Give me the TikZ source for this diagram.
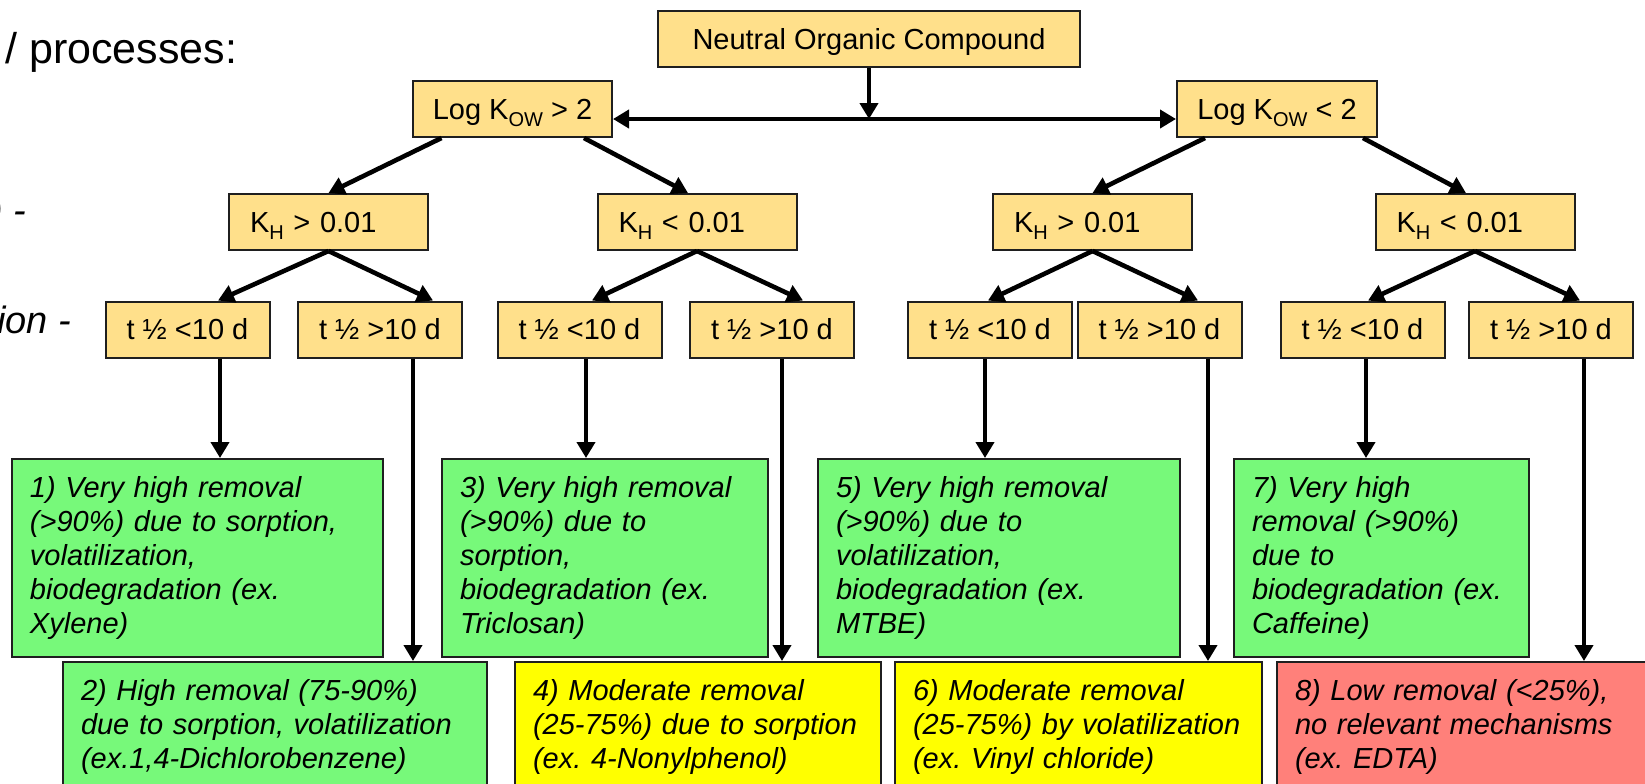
\documentclass[tikz,border=0pt]{standalone}
\usepackage{fontspec}
\setmainfont{Liberation Sans}
\usepackage{xcolor}
\definecolor{hopvang}{HTML}{FFE08B}
\definecolor{hopxanh}{HTML}{77F97A}
\definecolor{hopvangtuoi}{HTML}{FFFF00}
\definecolor{hopdo}{HTML}{FF807A}
\def\mauvien{black!88}
\usepackage{tikz}
\usetikzlibrary{arrows.meta,calc}
\newcommand{\duoi}[1]{\raisebox{-3.5pt}[0pt][0pt]{\fontsize{10}{10}\selectfont#1}}
\frenchspacing

\begin{document}
\begin{tikzpicture}[x=0.5pt,y=-0.5pt,>={Triangle[width=9pt,length=8pt]}]%
		\tikzset{
			hopnho/.style={draw=\mauvien,line width=1pt,fill=hopvang,minimum height=28pt,text height=10.4pt,text depth=0pt,inner xsep=0pt,font=\fontsize{14.5}{17}\selectfont},
			hopkh/.style={hopnho,align=left,text width=78.5pt,inner xsep=10.5pt},
			hopkq/.style={draw=\mauvien,line width=1pt,align=left,inner xsep=9pt,font=\fontsize{14.5}{17}\selectfont\itshape},
			hoptren/.style={hopkq,minimum height=99pt},
			hopduoi/.style={hopkq,minimum height=64.5pt},
			chule/.style={inner sep=0pt,font=\fontsize{21.5}{25}\selectfont},
			muiten/.style={line width=2.3pt,->}
		}
		\useasboundingbox (0,0) rectangle (1645,783);
		\clip (0,0) rectangle (1645,783);
		%%%Chữ bên trái
		\path (5,63) node[chule,anchor=base west] (tieude) {/ processes:};
		\path (26.5,223) node[chule,anchor=base east,font=\fontsize{19}{23}\selectfont\itshape] (dong2) {) -};
		\path (-3,333) node[chule,anchor=base west,font=\fontsize{19}{23}\selectfont\itshape] (dong3) {ion -};
		%%%Hộp gốc và hai nhánh Log Kow
		\path (869,39) node[hopnho,minimum width=211pt] (hc) {Neutral Organic Compound};
		\path (512.5,109) node[hopnho,minimum width=99.5pt] (lk1) {Log K\duoi{OW} > 2};
		\path (1277,109) node[hopnho,minimum width=100pt] (lk2) {Log K\duoi{OW} < 2};
		%%%Các hộp KH
		\path (328.5,222) node[hopkh] (kh1) {K\duoi{H} > 0.01};
		\path (697,222) node[hopkh] (kh2) {K\duoi{H} < 0.01};
		\path (1092.5,222) node[hopkh] (kh3) {K\duoi{H} > 0.01};
		\path (1475,222) node[hopkh] (kh4) {K\duoi{H} < 0.01};
		%%%Các hộp t 1/2
		\foreach \i/\x/\dau in {1/187.5/<,2/380/>,3/579.5/<,4/772/>,5/990/<,6/1159.5/>,7/1362.5/<,8/1551/>}{%
			\path (\x,329.5) node[hopnho,minimum width=82pt] (t\i) {t ½ \dau10 d};
		}
		%%%Các hộp kết quả
		\path (197.5,558) node[hoptren,fill=hopxanh,text width=167.5pt] (kq1) {1) Very high removal\\(>90\%) due to sorption,\\volatilization,\\biodegradation (ex.\\Xylene)};
		\path (275,726.5) node[hopduoi,fill=hopxanh,text width=194pt] (kq2) {2) High removal (75-90\%)\\due to sorption, volatilization\\(ex.1,4-Dichlorobenzene)};
		\path (605,558) node[hoptren,fill=hopxanh,text width=145pt] (kq3) {3) Very high removal\\(>90\%) due to\\sorption,\\biodegradation (ex.\\Triclosan)};
		\path (698,726.5) node[hopduoi,fill=hopvangtuoi,text width=165pt] (kq4) {4) Moderate removal\\(25-75\%) due to sorption\\(ex. 4-Nonylphenol)};
		\path (999,558) node[hoptren,fill=hopxanh,text width=163pt] (kq5) {5) Very high removal\\(>90\%) due to\\volatilization,\\biodegradation (ex.\\MTBE)};
		\path (1078.5,726.5) node[hopduoi,fill=hopvangtuoi,text width=165.5pt] (kq6) {6) Moderate removal\\(25-75\%) by volatilization\\(ex. Vinyl chloride)};
		\path (1381.5,558) node[hoptren,fill=hopxanh,text width=129.5pt] (kq7) {7) Very high\\removal (>90\%)\\due to\\biodegradation (ex.\\Caffeine)};
		\path (1487,726.5) node[hopduoi,fill=hopdo,text width=192pt] (kq8) {8) Low removal (<25\%),\\no relevant mechanisms\\(ex. EDTA)};
		%%%Mũi tên
		\coordinate (hl) at ([yshift=-5pt]lk1.east);
		\draw[muiten] (hc.south) -- (hc.south |- hl);
		\draw[muiten,<->] (hl) -- ([yshift=-5pt]lk2.west);
		\draw[muiten] ([xshift=-35.5pt]lk1.south) -- (kh1.north);
		\draw[muiten] ([xshift=35.75pt]lk1.south) -- ([xshift=-4.5pt]kh2.north);
		\draw[muiten] ([xshift=-36pt]lk2.south) -- (kh3.north);
		\draw[muiten] ([xshift=43pt]lk2.south) -- ([xshift=-4.5pt]kh4.north);
		\foreach \k/\t/\dx in {1/1/15.25,1/2/26.5,2/3/6.25,2/4/15.5,3/5/-1,3/6/19.25,4/7/2.75,4/8/14.5}{%
			\draw[muiten] (kh\k.south) -- ([xshift=\dx pt]t\t.north);
		}
		\foreach \t/\dx in {1/16.25,2/16.5,3/3.25,4/5,5/-2.5,6/24.25,7/1.75,8/16.5}{%
			\draw[muiten] ([xshift=\dx pt]t\t.south) -- ([xshift=\dx pt]t\t.south |- kq\t.north);
		}
	\end{tikzpicture}
\end{document}
